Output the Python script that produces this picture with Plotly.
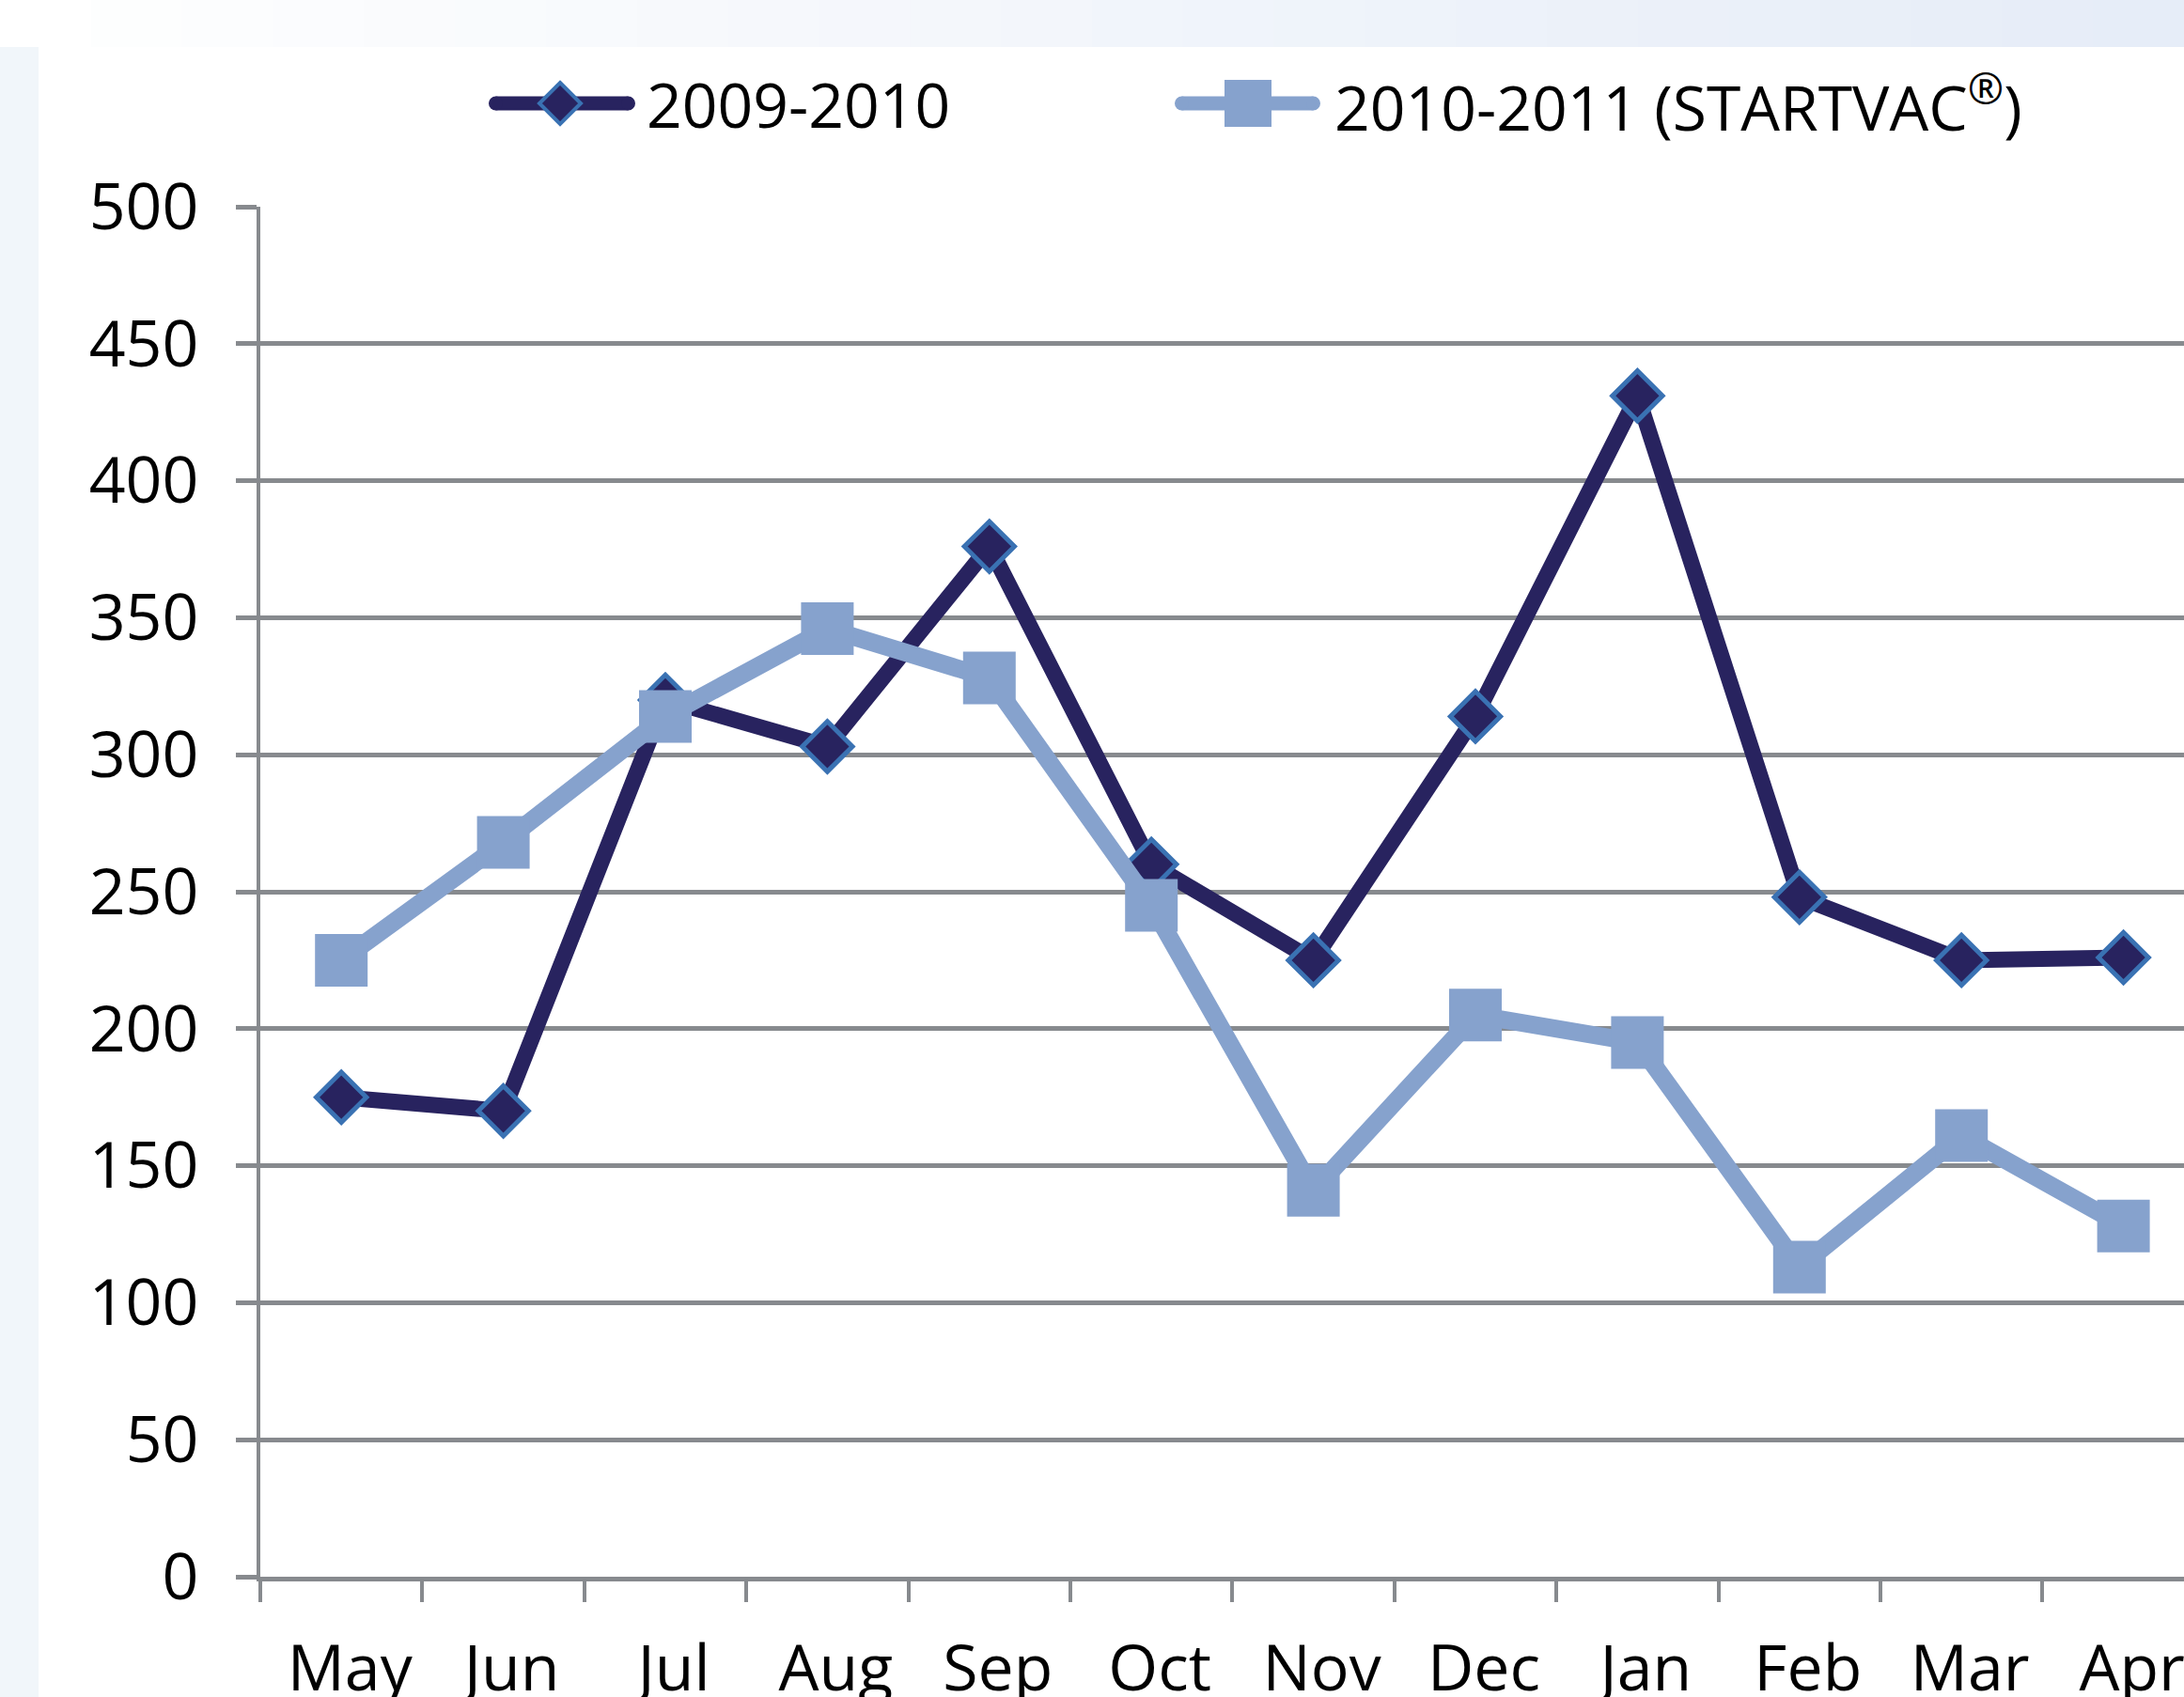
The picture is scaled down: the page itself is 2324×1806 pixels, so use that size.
import plotly.graph_objects as go

months = ["May", "Jun", "Jul", "Aug", "Sep", "Oct", "Nov", "Dec", "Jan", "Feb", "Mar", "Apr"]
season_2009_2010 = [175, 170, 320, 303, 376, 260, 225, 314, 431, 248, 225, 226]
season_2010_2011 = [225, 268, 314, 346, 328, 245, 141, 205, 195, 113, 161, 128]
y_ticks = [0, 50, 100, 150, 200, 250, 300, 350, 400, 450, 500]

name_a = "2009-2010"
name_b = "2010-2011 (STARTVAC<sup>®</sup>)"

DARK = "#28235f"
DARK_EDGE = "#3a72b3"
LIGHT = "#86a2cd"
GRID = "#878a8e"
FONT = "Open Sans"

W, H = 2324, 1806
ML, MT, MB = 277, 220, 128
plot_w = W - ML
plot_h = H - MT - MB
cat_px = 172.4
x_max = plot_w / cat_px - 0.5

fig = go.Figure()
fig.add_trace(go.Scatter(
    x=months, y=season_2009_2010, name=name_a, mode="lines+markers",
    line=dict(color=DARK, width=17),
    marker=dict(symbol="diamond", size=41, color=DARK, line=dict(color=DARK_EDGE, width=5)),
    cliponaxis=False, showlegend=False,
))
fig.add_trace(go.Scatter(
    x=months, y=season_2010_2011, name=name_b, mode="lines+markers",
    line=dict(color=LIGHT, width=19),
    marker=dict(symbol="square", size=56, color=LIGHT, line=dict(width=0)),
    cliponaxis=False, showlegend=False,
))

def px_shape(**kw):
    base = dict(xref="paper", yref="paper", xsizemode="pixel", ysizemode="pixel",
                xanchor=0, yanchor=1)
    base.update(kw)
    fig.add_shape(**base)

# background decoration: top gradient band and left strip
steps = 24
for i in range(steps):
    t = i / (steps - 1)
    r = int(255 + (230 - 255) * t)
    g = int(255 + (237 - 255) * t)
    b = int(255 + (248 - 255) * t)
    px_shape(type="rect", x0=-ML + i * W / steps, x1=-ML + (i + 1) * W / steps + 1,
             y0=MT - 50, y1=MT, fillcolor=f"rgb({r},{g},{b})", line=dict(width=0), layer="below")
px_shape(type="rect", x0=-ML, x1=-ML + 41, y0=-(H - MT), y1=MT - 50,
         fillcolor="#f1f6fa", line=dict(width=0), layer="below")

# legend (drawn as decoration in pixel space above the plot)
LEG_PY = 110
leg_y = MT - LEG_PY  # offset above plot top
legend_items = [
    (name_a, 520, 676, 596, DARK, "diamond", 686),
    (name_b, 1250, 1405, 1328, LIGHT, "square", 1418),
]
for label, lx0, lx1, mx, col, sym, tx in legend_items:
    lw = 15
    px_shape(type="line", x0=lx0 - ML + lw / 2, x1=lx1 - ML - lw / 2, y0=leg_y, y1=leg_y,
             line=dict(color=col, width=lw))
    for cx in (lx0 + lw / 2, lx1 - lw / 2):
        px_shape(type="circle", x0=cx - ML - lw / 2, x1=cx - ML + lw / 2,
                 y0=leg_y - lw / 2, y1=leg_y + lw / 2, fillcolor=col, line=dict(width=0))
    if sym == "diamond":
        cx, hd = mx - ML, 22
        px_shape(type="path",
                 path=f"M{cx},{leg_y + hd} L{cx + hd},{leg_y} L{cx},{leg_y - hd} L{cx - hd},{leg_y} Z",
                 fillcolor=DARK, line=dict(color=DARK_EDGE, width=4))
    else:
        s = 25
        px_shape(type="rect", x0=mx - ML - s, x1=mx - ML + s, y0=leg_y - s, y1=leg_y + s,
                 fillcolor=LIGHT, line=dict(width=0))
    fig.add_annotation(xref="paper", yref="paper", x=(tx - ML) / plot_w, y=(H - MB - LEG_PY) / plot_h,
                       xanchor="left", yanchor="middle", showarrow=False, text=label,
                       font=dict(family=FONT, size=66, color="black"))

fig.update_layout(
    width=W, height=H,
    margin=dict(l=ML, r=0, t=MT, b=MB, pad=0, autoexpand=False),
    paper_bgcolor="white", plot_bgcolor="white",
    font=dict(family=FONT, size=64, color="black"),
    showlegend=False,
)
fig.update_xaxes(
    type="category", categoryorder="array", categoryarray=months,
    range=[-0.5, x_max], automargin=False,
    showgrid=False, showline=True, linecolor=GRID, linewidth=5,
    ticks="outside", tickson="boundaries", ticklen=22, tickwidth=4, tickcolor=GRID,
    tickfont=dict(family=FONT, size=68, color="black"),
    ticklabelstandoff=34, ticklabelshift=9, zeroline=False,
)
fig.update_yaxes(
    range=[0, 500], tickvals=y_ticks, ticktext=[str(v) for v in y_ticks], automargin=False,
    showgrid=True, gridcolor=GRID, gridwidth=5,
    showline=True, linecolor=GRID, linewidth=4,
    ticks="outside", ticklen=22, tickwidth=5, tickcolor=GRID,
    tickfont=dict(family=FONT, size=68, color="black"),
    ticklabelstandoff=26, zeroline=False,
)

fig.write_html(
    "out.html",
    config={"displayModeBar": False},
    post_script="document.body.style.margin='0';document.body.style.overflow='hidden';",
)
